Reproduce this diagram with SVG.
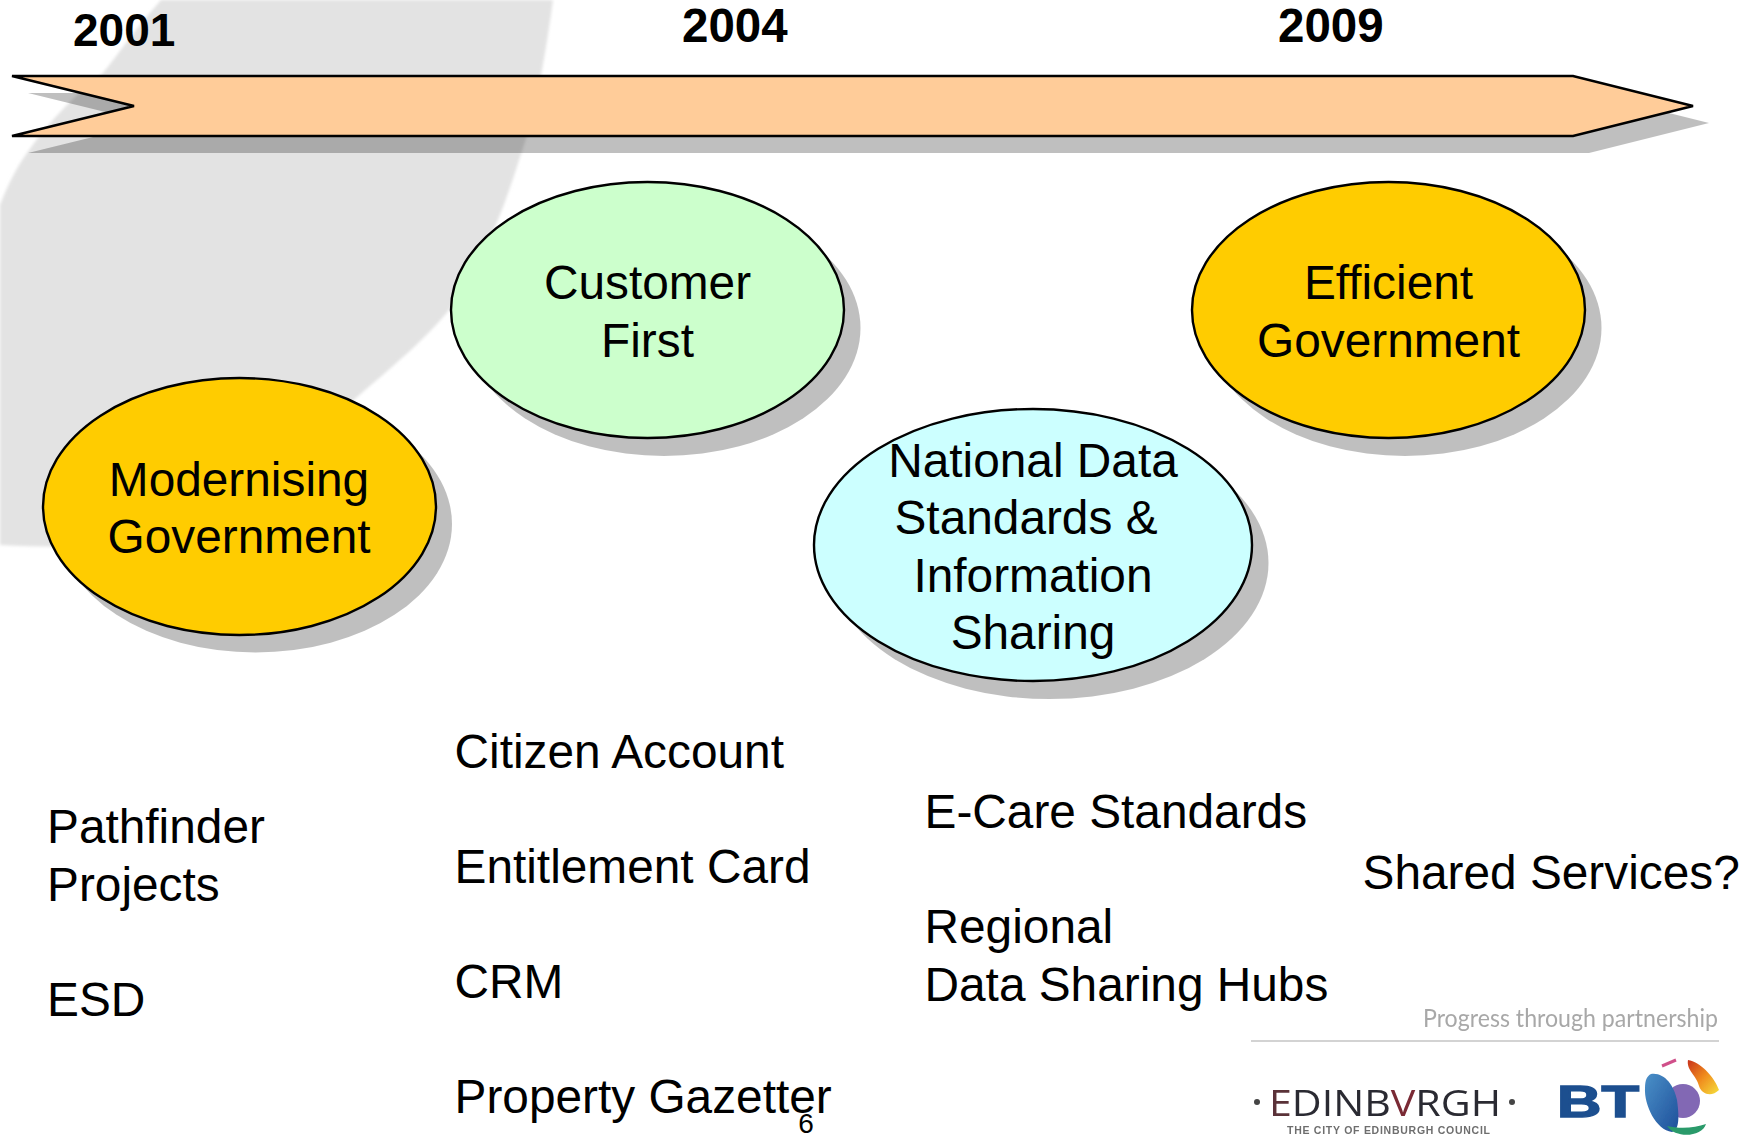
<svg xmlns="http://www.w3.org/2000/svg" width="1756" height="1138" viewBox="0 0 1756 1138">
<style>
text{font-family:"Liberation Sans",Arial,sans-serif;fill:#000}
.t{font-size:47.8px}
.m{text-anchor:middle}
.y{font-size:46px;font-weight:bold}
.z{font-size:47.5px;font-weight:bold}
.o{stroke:#000;stroke-width:2.4}
.s{fill:#000;fill-opacity:.25}
</style>
<defs>
<filter id="b2" x="-20%" y="-20%" width="140%" height="140%"><feGaussianBlur stdDeviation="1.5"/></filter>
<filter id="b1" x="-10%" y="-30%" width="120%" height="160%"><feGaussianBlur stdDeviation=".6"/></filter>
<linearGradient id="fl" x1="0" y1="0" x2="1" y2="1"><stop offset="0" stop-color="#c8321e"/><stop offset=".5" stop-color="#f08c1e"/><stop offset="1" stop-color="#f5e03c"/></linearGradient>
<linearGradient id="bl" x1="0" y1="0" x2="1" y2="1"><stop offset="0" stop-color="#4a90c8"/><stop offset="1" stop-color="#1e4f9a"/></linearGradient>
</defs>
<rect width="1756" height="1138" fill="#fff"/>
<path id="backdrop" d="M161,0C130,35 118,55 103,73C75,95 50,120 27,153C15,170 8,185 0,205L0,545C60,548 110,548 160,538C230,505 300,450 356,398C400,360 430,335 452,306C485,260 505,205 520,157C533,120 543,73 553,0Z" fill="#e3e3e3" filter="url(#b2)"/>
<g id="timeline">
<path class="s" d="M28,93L150,123L28,153L1589,153L1709,123L1589,93Z"/>
<path class="o" fill="#ffcc99" d="M12,76L134,106L12,136L1573,136L1693,106L1573,76Z"/>
</g>
<g id="year-2001"><text class="y" x="73" y="46">2001</text></g>
<g id="year-2004"><text class="z" x="682" y="42">2004</text></g>
<g id="year-2009"><text class="z" x="1278" y="42">2009</text></g>
<g id="modernising-government">
<ellipse class="s" cx="255.500" cy="524" rx="196.500" ry="128.500"/>
<ellipse class="o" cx="239.500" cy="506.500" rx="196.500" ry="128.500" fill="#ffcc00"/>
<text class="t m" x="239" y="496">Modernising</text>
<text class="t m" x="239" y="553">Government</text>
</g>
<g id="customer-first">
<ellipse class="s" cx="664" cy="328" rx="196.500" ry="128"/>
<ellipse class="o" cx="647.500" cy="310" rx="196.500" ry="128" fill="#ccffcc"/>
<text class="t m" x="647.500" y="299">Customer</text>
<text class="t m" x="647.500" y="357">First</text>
</g>
<g id="efficient-government">
<ellipse class="s" cx="1405" cy="328" rx="196.500" ry="128"/>
<ellipse class="o" cx="1388.500" cy="310" rx="196.500" ry="128" fill="#ffcc00"/>
<text class="t m" x="1388.500" y="299">Efficient</text>
<text class="t m" x="1388.500" y="357">Government</text>
</g>
<g id="national-data">
<ellipse class="s" cx="1049.500" cy="563" rx="219" ry="136"/>
<ellipse class="o" cx="1033" cy="545" rx="219" ry="136" fill="#ccffff"/>
<text class="t m" x="1033" y="477">National Data</text>
<text class="t m" x="1026" y="534">Standards &amp;</text>
<text class="t m" x="1033" y="592">Information</text>
<text class="t m" x="1033" y="649">Sharing</text>
</g>
<g id="list-2001">
<text class="t" x="47" y="843">Pathfinder</text>
<text class="t" x="47" y="901">Projects</text>
<text class="t" x="47" y="1016">ESD</text>
</g>
<g id="list-2004">
<text class="t" x="454.500" y="768">Citizen Account</text>
<text class="t" x="454.500" y="883">Entitlement Card</text>
<text class="t" x="454.500" y="998">CRM</text>
<text class="t" x="454.500" y="1113">Property Gazetter</text>
</g>
<g id="list-standards">
<text class="t" x="924.500" y="828">E-Care Standards</text>
<text class="t" x="924.500" y="943">Regional</text>
<text class="t" x="924.500" y="1001">Data Sharing Hubs</text>
</g>
<g id="list-2009"><text class="t" x="1362.500" y="889">Shared Services?</text></g>
<g id="page-number"><text class="m" x="806" y="1133" font-size="28">6</text></g>
<g id="footer-logos">
<text x="1423" y="1027" font-size="25" textLength="295" lengthAdjust="spacingAndGlyphs" style="font-family:Lato,'Open Sans',sans-serif;fill:#a8a8a8" filter="url(#b1)">Progress through partnership</text>
<line x1="1251" y1="1041" x2="1719" y2="1041" stroke="#c4c4c4" stroke-width="1.5"/>
<circle cx="1257" cy="1102" r="3" fill="#444" filter="url(#b1)"/>
<circle cx="1512" cy="1102" r="3" fill="#444" filter="url(#b1)"/>
<g filter="url(#b1)">
<text x="1269" y="1116" font-size="37" textLength="232" lengthAdjust="spacingAndGlyphs" style="font-family:'Open Sans',sans-serif;font-weight:400;fill:#2c2c33"><tspan style="fill:#5a3038">E</tspan>DINB<tspan style="fill:#7a2a35">V</tspan>RGH</text>
<text x="1287" y="1134" font-size="10.500" textLength="203" style="font-weight:bold;fill:#6e6e6e">THE CITY OF EDINBURGH COUNCIL</text>
<text x="1557" y="1117" font-size="44" textLength="82" lengthAdjust="spacingAndGlyphs" style="font-weight:bold;fill:#1d4f8f;stroke:#1d4f8f;stroke-width:1.5">BT</text>
</g>
<g filter="url(#b1)">
<ellipse cx="1683" cy="1101" rx="17" ry="17" fill="#8268b4"/>
<path d="M1651,1074C1664,1072 1674,1085 1677,1100C1679,1115 1680,1130 1672,1132C1656,1130 1644,1105 1645,1088C1645,1080 1647,1076 1651,1074Z" fill="url(#bl)"/>
<path d="M1667,1126C1680,1129 1695,1128 1706,1124C1702,1137 1676,1139 1667,1126Z" fill="#2a9a6a"/>
<path d="M1662,1066L1676,1060" stroke="#d0508a" stroke-width="3" fill="none"/>
<path d="M1688,1060C1700,1062 1714,1076 1719,1090C1712,1097 1702,1095 1699,1086C1697,1076 1686,1070 1688,1060Z" fill="url(#fl)"/>
</g>
</g>
</svg>
